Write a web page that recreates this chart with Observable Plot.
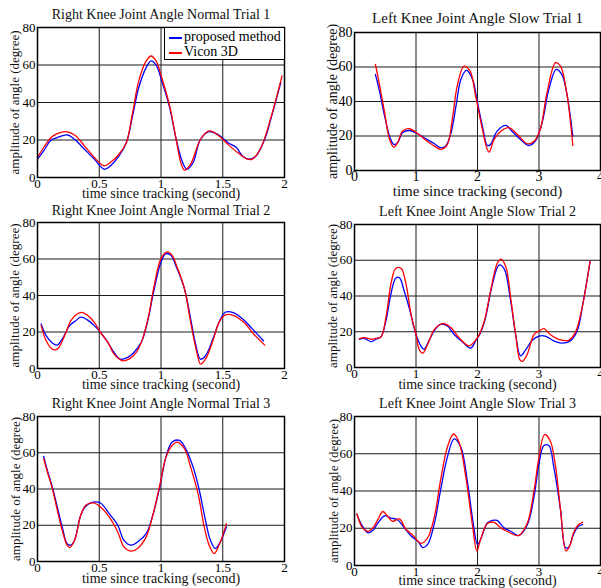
<!DOCTYPE html>
<html><head><meta charset="utf-8">
<script src="https://cdn.jsdelivr.net/npm/d3@7"></script>
<script src="https://cdn.jsdelivr.net/npm/@observablehq/plot@0.6"></script>
<style>
html,body{margin:0;padding:0;background:#fff;overflow:hidden;}
#root{position:relative;width:601px;height:588px;font-family:"Liberation Serif","Times New Roman",serif;}
.legend{position:absolute;background:#fff;border:1px solid #000;box-sizing:border-box;font-family:"Liberation Serif","Times New Roman",serif;font-size:14px;color:#000;}
.legend .row{position:absolute;left:4px;height:15px;line-height:15px;white-space:nowrap;}
.legend .sw{display:inline-block;width:13px;height:2px;vertical-align:middle;margin-right:2px;}
</style></head><body><div id="root"></div><script>
// ---- text ----
const titles = [
  "Right Knee Joint Angle Normal Trial 1",
  "Left Knee Joint Angle Slow Trial 1",
  "Right Knee Joint Angle Normal Trial 2",
  "Left Knee Joint Angle Slow Trial 2",
  "Right Knee Joint Angle Normal Trial 3",
  "Left Knee Joint Angle Slow Trial 3"
];
const seriesNames = ["proposed method", "Vicon 3D"];
const seriesColors = ["#0000ff", "#ff0000"];
const xLabel = "time since tracking (second)";
const yLabel = "amplitude of angle (degree)";
const xTicksNormal = [0, 0.5, 1, 1.5, 2];
const xTicksSlow = [0, 1, 2, 3, 4];
const yTicks = [0, 20, 40, 60, 80];

// ---- Right knee normal trial 1 ----
const rn1T_prop = [0.00,0.05,0.11,0.16,0.24,0.30,0.38,0.46,0.54,0.59,0.66,0.72,0.77,0.82,0.88,0.92,0.96,1.01,1.07,1.12,1.17,1.21,1.26,1.32,1.39,1.46,1.54,1.61,1.66,1.71,1.77,1.84,1.90,1.97];
const rn1_prop  = [9.8,14.2,20,21.3,22.7,20.4,15.1,9.8,4.4,6.2,11.5,18.7,32.9,48,58.6,62.2,60,50.6,37.3,21.3,8.9,4.4,8,20.4,24.5,23,18.7,16,11.5,9.8,11.5,20.4,33.7,50.6];
const rn1T_vicon = [0.00,0.05,0.11,0.16,0.23,0.30,0.38,0.46,0.54,0.59,0.66,0.72,0.77,0.82,0.88,0.92,0.96,1.01,1.07,1.12,1.16,1.19,1.24,1.32,1.39,1.46,1.54,1.62,1.70,1.74,1.81,1.89,1.98];
const rn1_vicon  = [10.7,16,21.3,23.4,24.5,22.7,16.9,10.7,6.2,8,12.4,18.7,34.6,51.5,62.2,64.8,62.2,52.4,38.2,21.3,8,3.9,7.1,20.4,24.9,22.7,17.8,13.3,9.8,9.8,16,32,54.2];

// ---- Left knee slow trial 1 ----
const ls1T_prop = [0.34,0.40,0.49,0.57,0.64,0.70,0.78,0.89,1.03,1.16,1.30,1.40,1.48,1.57,1.65,1.73,1.82,1.92,2.00,2.08,2.16,2.21,2.32,2.46,2.56,2.70,2.83,2.94,3.05,3.16,3.28,3.37,3.45,3.55];
const ls1_prop  = [55.7,47,31.5,19.9,15.1,16.1,21.9,23.2,21.3,18.4,15.5,13.2,14.1,21.9,37.3,52.8,58,52.8,39.3,25.7,14.5,15,22.8,26.1,22.8,18,14.5,17,27.7,47,58.6,55.7,45,19.9];
const ls1T_vicon = [0.34,0.40,0.49,0.57,0.64,0.70,0.78,0.89,1.03,1.16,1.30,1.41,1.51,1.59,1.67,1.78,1.88,1.97,2.08,2.15,2.19,2.27,2.38,2.51,2.65,2.81,2.92,3.02,3.13,3.27,3.35,3.45,3.55];
const ls1_vicon  = [61.5,50.9,33.5,18,13.5,16.1,22.8,24.2,21.3,17.6,14.1,12.2,15.1,29.6,48.9,60.5,57.6,43.1,23.8,13.2,10.6,18,22.8,24.8,20.9,15.5,17,23.8,45.1,62.5,60.5,45.1,14.5];

// ---- Right knee normal trial 2 ----
const rn2T_prop = [0.03,0.07,0.12,0.16,0.20,0.26,0.31,0.35,0.40,0.46,0.51,0.57,0.62,0.67,0.73,0.78,0.84,0.89,0.94,1.00,1.04,1.08,1.13,1.19,1.24,1.28,1.32,1.36,1.42,1.47,1.52,1.59,1.66,1.74,1.83];
const rn2_prop  = [24.4,18,14,12.8,16.1,23.5,26.2,28.1,26.8,23.5,19.8,14.3,8.8,5.1,6.1,8.8,14.3,25.3,41.8,58.3,62.9,62,54.7,43.7,27.2,13.4,5.1,7,16.1,25.3,30.8,30.5,27.2,21.7,15.2];
const rn2T_vicon = [0.03,0.07,0.12,0.16,0.22,0.27,0.32,0.36,0.40,0.46,0.51,0.57,0.62,0.69,0.74,0.80,0.85,0.90,0.94,1.00,1.05,1.09,1.13,1.19,1.24,1.29,1.32,1.36,1.42,1.47,1.52,1.59,1.67,1.75,1.84];
const rn2_vicon  = [23.5,15.2,10.6,10.6,18,26.2,29.9,30.8,29.4,25.3,19.8,14.3,7.9,4.2,5.1,8.8,16.1,29,43.7,60.2,63.9,62,55.6,43.7,25.3,8.8,2.4,5.1,15.2,25.3,29.4,29,25.3,18.9,12.8];

// ---- Left knee slow trial 2 ----
const ls2T_prop = [0.08,0.16,0.27,0.35,0.43,0.51,0.59,0.67,0.73,0.81,0.89,1.00,1.08,1.13,1.21,1.30,1.40,1.51,1.62,1.75,1.89,1.97,2.05,2.13,2.24,2.35,2.43,2.54,2.62,2.70,2.78,2.89,3.00,3.10,3.24,3.37,3.51,3.62,3.72,3.83];
const ls2_prop  = [15.8,16.3,14.5,15.8,17.1,25.9,40.7,49.9,50.3,42.5,33.3,18.5,12.1,10.2,14.9,20.8,24.1,23.2,18.5,14.5,10.8,14.9,19.5,27.8,46.2,57.3,55.4,37,18.5,6.5,9.7,15.2,17.6,17.6,14.9,13.6,14.9,20.4,37,59.1];
const ls2T_vicon = [0.08,0.16,0.27,0.35,0.43,0.51,0.60,0.67,0.76,0.84,0.92,1.00,1.05,1.11,1.19,1.30,1.43,1.57,1.70,1.86,2.00,2.11,2.21,2.32,2.38,2.46,2.54,2.62,2.69,2.73,2.81,2.92,3.00,3.08,3.18,3.32,3.48,3.59,3.70,3.83];
const ls2_vicon  = [16.1,16.7,15.8,16.3,17.1,27.8,48.1,55.4,55.4,46.2,29.6,18.5,10.2,8,13,21.3,24.6,22.2,16.7,12.1,16.7,25.9,42.5,58.2,60.6,56.4,38.8,18.5,4.2,3.4,7.5,18.5,20.4,21.7,18.5,15.8,15.2,19.5,33.3,59.5];

// ---- Right knee normal trial 3 ----
const rn3T_prop = [0.05,0.08,0.12,0.16,0.20,0.24,0.27,0.30,0.35,0.39,0.45,0.51,0.58,0.65,0.70,0.76,0.81,0.88,0.93,0.99,1.04,1.09,1.15,1.20,1.26,1.31,1.36,1.40,1.44,1.48,1.53];
const rn3_prop  = [58,50.3,41.1,30.1,19.1,9.9,9,11.7,25.5,30.5,32.8,32.3,26.4,20,11.7,9,10.8,15.4,24.6,41.1,57.6,65.9,66.8,62.2,52.1,39.3,22.8,11.7,7.2,10.8,19.1];
const rn3T_vicon = [0.05,0.08,0.12,0.16,0.20,0.24,0.26,0.30,0.35,0.39,0.45,0.51,0.58,0.65,0.70,0.76,0.81,0.88,0.93,0.99,1.04,1.09,1.13,1.19,1.24,1.30,1.35,1.39,1.43,1.47,1.53];
const rn3_vicon  = [56.7,49.4,40.2,28.3,17.2,9,7.7,11.7,25.5,31,32.3,30.1,24.6,16.3,8.1,5.7,7.2,13.6,24.6,42,57.6,64,65.9,62.2,52.1,37.4,19.1,9,4.4,9,20.9];

// ---- Left knee slow trial 3 ----
const ls3T_prop = [0.04,0.13,0.22,0.30,0.38,0.49,0.59,0.70,0.81,0.92,1.03,1.11,1.19,1.30,1.40,1.51,1.62,1.73,1.84,1.93,2.00,2.05,2.16,2.24,2.32,2.43,2.54,2.67,2.81,2.92,3.00,3.08,3.16,3.24,3.35,3.43,3.48,3.56,3.64,3.71];
const ls3_prop  = [27.3,21.1,17.5,18.9,22.8,26.7,25.5,24.6,20.2,15.8,13.1,9.6,11.3,22.8,40.5,58.2,68,63.5,44.1,22.8,11.3,14,22.8,24.2,24.2,20.2,18.4,16.1,21.9,37,54.7,64.4,64.4,53,29.9,9.6,9.6,16.6,21.1,21.9];
const ls3T_vicon = [0.04,0.13,0.22,0.30,0.38,0.46,0.54,0.62,0.73,0.84,0.94,1.08,1.19,1.30,1.40,1.51,1.61,1.70,1.81,1.92,1.99,2.05,2.16,2.27,2.38,2.48,2.67,2.81,2.92,3.00,3.09,3.18,3.27,3.35,3.44,3.51,3.56,3.64,3.71];
const ls3_vicon  = [27.8,20.2,18.4,20.2,24.6,29,26.4,23.7,25,19.3,16.6,11.9,14.9,26.4,45.8,63.5,70.6,66.2,47.6,21.1,7.8,14,22.5,23.2,20.2,18.4,16.1,22.8,40.5,58.2,70.3,67.1,53,29.9,7.8,11.3,17.5,21.9,23.2];

// ---- panel set-up ----
const series = [
  [[rn1T_prop, rn1_prop], [rn1T_vicon, rn1_vicon]],
  [[ls1T_prop, ls1_prop], [ls1T_vicon, ls1_vicon]],
  [[rn2T_prop, rn2_prop], [rn2T_vicon, rn2_vicon]],
  [[ls2T_prop, ls2_prop], [ls2T_vicon, ls2_vicon]],
  [[rn3T_prop, rn3_prop], [rn3T_vicon, rn3_vicon]],
  [[ls3T_prop, ls3_prop], [ls3T_vicon, ls3_vicon]]
];
const xTickSets = [xTicksNormal, xTicksSlow, xTicksNormal, xTicksSlow, xTicksNormal, xTicksSlow];

const layout = [
  {L:37,T:27,R:284,B:177,titleY:14,titleSize:14,ylabX:14,ylabSize:13,xlabY:193,xlabSize:14,tick:13},
  {L:354,T:32,R:600,B:170,titleY:18,titleSize:15,ylabX:332,ylabSize:14,xlabY:191,xlabSize:15,tick:14},
  {L:37,T:222,R:284,B:368,titleY:210,titleSize:14,ylabX:14,ylabSize:13,xlabY:384,xlabSize:14,tick:13},
  {L:354,T:224,R:600,B:367,titleY:211,titleSize:14,ylabX:332,ylabSize:13,xlabY:384,xlabSize:14,tick:13},
  {L:37,T:416,R:284,B:561,titleY:403,titleSize:14,ylabX:15,ylabSize:13,xlabY:578,xlabSize:14,tick:13},
  {L:354,T:416,R:600,B:565,titleY:403,titleSize:14,ylabX:333,ylabSize:13,xlabY:580,xlabSize:14,tick:13}
];

const root = document.getElementById("root");
const FONT = '"Liberation Serif","Times New Roman",serif';
const mL = 50, mT = 30, mR = 10, mB = 30;

layout.forEach((g, i) => {
  const xt = xTickSets[i];
  const lines = series[i].map(([ts, vs], s) =>
    Plot.line(ts.map((t, k) => ({t, v: vs[k]})), {
      x: "t", y: "v", stroke: seriesColors[s], strokeWidth: 1.3, curve: "catmull-rom"
    })
  );
  const chart = Plot.plot({
    width: (g.R - g.L) + mL + mR,
    height: (g.B - g.T) + mT + mB,
    marginLeft: mL, marginTop: mT, marginRight: mR, marginBottom: mB,
    style: {background: "transparent", fontFamily: FONT, fontSize: g.tick + "px", color: "#000", overflow: "visible"},
    x: {domain: [xt[0], xt[xt.length - 1]], ticks: xt, tickFormat: d => String(d), tickSize: 0, tickPadding: 1, label: null},
    y: {domain: [0, 80], ticks: yTicks, tickFormat: d => String(d), tickSize: 0, tickPadding: 2, label: null},
    marks: [
      Plot.ruleX(xt, {stroke: "#1a1a1a", strokeWidth: 1}),
      Plot.ruleY(yTicks, {stroke: "#1a1a1a", strokeWidth: 1}),
      ...lines,
      Plot.frame({stroke: "#000", strokeWidth: 1.5}),
      Plot.text([titles[i]], {text: d => d, frameAnchor: "top", lineAnchor: "middle", dy: g.titleY - g.T, fontSize: g.titleSize, fill: "#111"}),
      Plot.text([xLabel], {text: d => d, frameAnchor: "bottom", lineAnchor: "middle", dy: g.xlabY - g.B, fontSize: g.xlabSize, fill: "#111"}),
      Plot.text([yLabel], {text: d => d, frameAnchor: "left", textAnchor: "middle", lineAnchor: "middle", dx: g.ylabX - g.L, rotate: -90, fontSize: g.ylabSize, fill: "#111"})
    ]
  });
  chart.style.position = "absolute";
  chart.style.left = (g.L - mL) + "px";
  chart.style.top = (g.T - mT) + "px";
  chart.style.maxWidth = "none";
  root.appendChild(chart);
});

// legend inside first panel (top-right corner)
const lg = document.createElement("div");
lg.className = "legend";
lg.style.left = "164px"; lg.style.top = "27px"; lg.style.width = "121px"; lg.style.height = "33px";
seriesNames.forEach((name, s) => {
  const row = document.createElement("div");
  row.className = "row";
  row.style.top = (s === 0 ? 1 : 16) + "px";
  const sw = document.createElement("span");
  sw.className = "sw"; sw.style.background = seriesColors[s];
  row.appendChild(sw);
  row.appendChild(document.createTextNode(name));
  lg.appendChild(row);
});
root.appendChild(lg);
</script></body></html>
